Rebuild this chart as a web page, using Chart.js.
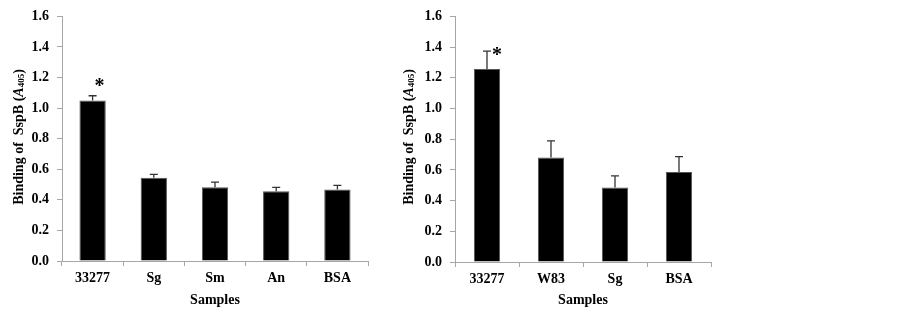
<!DOCTYPE html>
<html>
<head>
<meta charset="utf-8">
<script src="https://cdn.jsdelivr.net/npm/chart.js@4"></script>
<style>
    body { margin: 0; background: #fff; }
    .panel { position: absolute; top: 0; width: 390px; height: 313px; }
</style>
</head>
<body>
<div class="panel" style="left: 0;"><canvas id="leftChart" width="390" height="313"></canvas></div>
<div class="panel" style="left: 390px;"><canvas id="rightChart" width="390" height="313"></canvas></div>
<script>
    // Valores
    var leftCategories = ['33277', 'Sg', 'Sm', 'An', 'BSA'];
    var leftMeans = [1.05, 0.545, 0.482, 0.456, 0.467];
    var leftErrors = [0.031, 0.022, 0.034, 0.026, 0.028];

    var rightCategories = ['33277', 'W83', 'Sg', 'BSA'];
    var rightMeans = [1.257, 0.681, 0.486, 0.587];
    var rightErrors = [0.117, 0.108, 0.075, 0.1];

    var yMin = 0;
    var yMax = 1.6;
    var yStep = 0.2;
    var xTitle = 'Samples';
    var starLabel = '*';

    var serif = "'Liberation Serif', 'Times New Roman', serif";
    var axisGray = '#a6a6a6';

    // Barras de error (solo hacia arriba) y asterisco
    var errorBarPlugin = {
        id: 'errorBars',
        afterDatasetsDraw: function (chart, args, opts) {
            var ctx = chart.ctx;
            var yScale = chart.scales.y;
            var meta = chart.getDatasetMeta(0);
            var means = chart.data.datasets[0].data;
            ctx.save();
            ctx.strokeStyle = '#333';
            ctx.lineWidth = 1.3;
            meta.data.forEach(function (bar, i) {
                var top = yScale.getPixelForValue(means[i] + opts.errors[i]);
                ctx.beginPath();
                ctx.moveTo(bar.x, bar.y);
                ctx.lineTo(bar.x, top);
                ctx.moveTo(bar.x - 4, top);
                ctx.lineTo(bar.x + 4, top);
                ctx.stroke();
                if (opts.starIndex === i) {
                    ctx.fillStyle = '#000';
                    ctx.font = 'bold 20px ' + serif;
                    ctx.textAlign = 'center';
                    ctx.textBaseline = 'middle';
                    ctx.fillText(starLabel, bar.x + opts.starDx, top + opts.starDy);
                }
            });
            ctx.restore();
        }
    };

    // Titulo del eje Y con A en cursiva y subindice 405
    var yTitlePlugin = {
        id: 'yTitle',
        afterDraw: function (chart, args, opts) {
            var ctx = chart.ctx;
            var parts = [
                { text: 'Binding of  SspB (', font: 'bold 14px ' + serif, dy: 0 },
                { text: 'A', font: 'italic bold 14px ' + serif, dy: 0 },
                { text: '405', font: 'bold 9px ' + serif, dy: 3 },
                { text: ')', font: 'bold 14px ' + serif, dy: 0 }
            ];
            var total = 0;
            parts.forEach(function (p) {
                ctx.font = p.font;
                p.w = ctx.measureText(p.text).width;
                total += p.w;
            });
            ctx.save();
            ctx.translate(opts.x, opts.y);
            ctx.rotate(-Math.PI / 2);
            ctx.fillStyle = '#000';
            ctx.textBaseline = 'middle';
            ctx.textAlign = 'left';
            var pos = -total / 2;
            parts.forEach(function (p) {
                ctx.font = p.font;
                ctx.fillText(p.text, pos, p.dy);
                pos += p.w;
            });
            ctx.restore();
        }
    };

    function makeChart(canvasId, categories, means, errors, box, starDx, starDy, barPct) {
        return new Chart(document.getElementById(canvasId), {
            type: 'bar',
            data: {
                labels: categories,
                datasets: [{
                    data: means,
                    backgroundColor: '#000',
                    borderColor: '#555',
                    borderWidth: 1,
                    categoryPercentage: 1,
                    barPercentage: barPct
                }]
            },
            options: {
                responsive: false,
                animation: false,
                layout: { padding: { top: box.top, right: box.right, bottom: 0, left: 0 } },
                plugins: {
                    legend: { display: false },
                    tooltip: { enabled: false },
                    errorBars: { errors: errors, starIndex: 0, starDx: starDx, starDy: starDy },
                    yTitle: { x: 19, y: 137 }
                },
                scales: {
                    x: {
                        grid: { display: true, drawOnChartArea: false, drawTicks: true, tickLength: 5, color: axisGray, offset: true },
                        border: { color: axisGray, width: 1 },
                        ticks: { color: '#000', padding: 4, font: { family: serif, size: 14, weight: 'bold' } },
                        title: { display: true, text: xTitle, color: '#000', padding: { top: 4, bottom: 4 }, font: { family: serif, size: 14, weight: 'bold' } },
                        afterFit: function (scale) { scale.height = box.xHeight; }
                    },
                    y: {
                        min: yMin,
                        max: yMax,
                        grid: { display: true, drawOnChartArea: false, drawTicks: true, tickLength: 5, color: axisGray },
                        border: { color: axisGray, width: 1 },
                        ticks: {
                            stepSize: yStep,
                            color: '#000',
                            padding: 8,
                            font: { family: serif, size: 14, weight: 'bold' },
                            callback: function (v) { return v.toFixed(1); }
                        },
                        afterFit: function (scale) { scale.width = box.yWidth; }
                    }
                }
            },
            plugins: [errorBarPlugin, yTitlePlugin]
        });
    }

    makeChart('leftChart', leftCategories, leftMeans, leftErrors,
        { top: 12, right: 22, xHeight: 52, yWidth: 62 }, 7, -9, 0.43);
    makeChart('rightChart', rightCategories, rightMeans, rightErrors,
        { top: 16, right: 69, xHeight: 51, yWidth: 65 }, 10, 5, 0.41);
</script>
</body>
</html>
